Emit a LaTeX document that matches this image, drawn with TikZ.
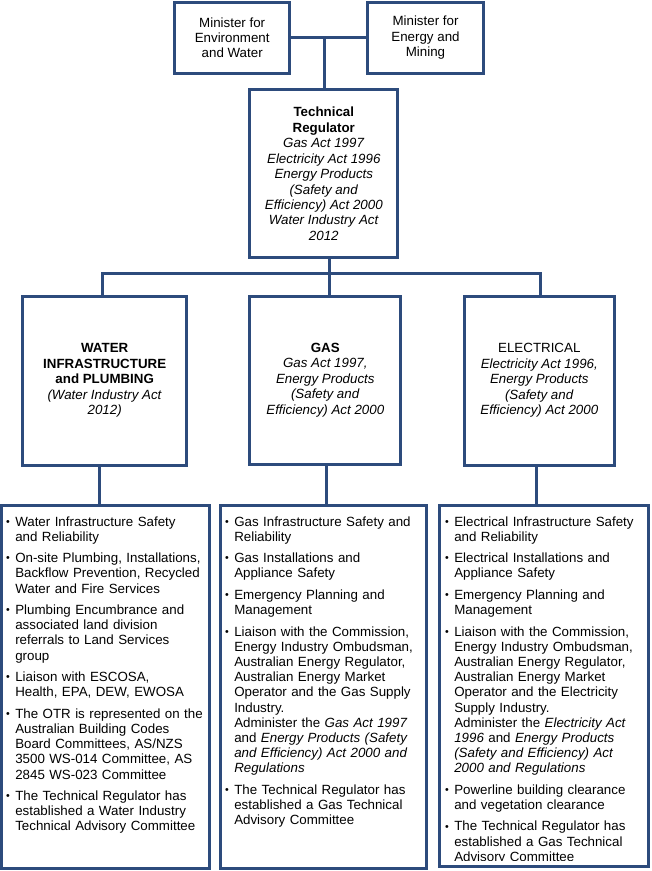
\documentclass[tikz,border=0pt]{standalone}
\usepackage{fontspec}
\setmainfont{Liberation Sans}
\definecolor{navy}{RGB}{45,75,124}
\newcommand{\bul}{\leavevmode\llap{\raisebox{0.12ex}{\scalebox{0.8}{\textbullet}}\hspace{4pt}}}
\newcommand{\ig}{\\[4.7pt]}
\tikzset{
  box/.style={draw=navy, line width=2.25pt, rectangle, inner sep=0pt, align=center,
    font=\fontsize{10pt}{11.6pt}\selectfont},
  link/.style={draw=navy, line width=2.25pt, line join=miter},
  listtext/.style={anchor=base west, inner sep=0pt, text width=150pt, align=left,
    font=\fontsize{10pt}{11.4pt}\selectfont},
}
\begin{document}
\begin{tikzpicture}[x=0.75pt,y=-0.75pt]
\useasboundingbox (0,0) rectangle (652,871);

% top level
\node[box, minimum width=85.9pt, minimum height=53.5pt] (env) at (232.2,37.7)
  {Minister for\\Environment\\and Water};
\node[box, minimum width=86.7pt, minimum height=53.5pt] (energy) at (425.5,37.7)
  {Minister for\\Energy and\\Mining};
\node[box, minimum width=110.8pt, minimum height=125.8pt] (tr) at (323.8,173.8)
  {\textbf{Technical}\\\textbf{Regulator}\\\textit{Gas Act 1997}\\\textit{Electricity Act 1996}\\\textit{Energy Products}\\\textit{(Safety and}\\\textit{Efficiency) Act 2000}\\\textit{Water Industry Act}\\\textit{2012}};

% divisions
\node[box, minimum width=123pt, minimum height=126.75pt] (water) at (104.7,380.5)
  {\textbf{WATER}\\\textbf{INFRASTRUCTURE}\\\textbf{and PLUMBING}\\\textit{(Water Industry Act}\\\textit{2012)}};
\node[box, minimum width=113pt, minimum height=126pt] (gas) at (325.3,380)
  {\textbf{GAS}\\\textit{Gas Act 1997,}\\\textit{Energy Products}\\\textit{(Safety and}\\\textit{Efficiency) Act 2000}};
\node[box, minimum width=112.5pt, minimum height=126.75pt] (elec) at (539.3,380.5)
  {ELECTRICAL\\\textit{Electricity Act 1996,}\\\textit{Energy Products}\\\textit{(Safety and}\\\textit{Efficiency) Act 2000}};

% list boxes
\node[box, minimum width=156.2pt, minimum height=272.6pt] (wlist) at (105.85,686.75) {};
\node[box, minimum width=154.3pt, minimum height=272.6pt] (glist) at (323.85,686.75) {};
\node[box, minimum width=156.75pt, minimum height=270.75pt] (elist) at (543.5,685.5) {};

% connectors
\coordinate (mtop) at (324,37.7);
\coordinate (busL) at (102.7,273.3);
\coordinate (busM) at (329,273.3);
\coordinate (busR) at (540,273.3);
\coordinate (wd) at (99,0);
\coordinate (gd) at (326,0);
\coordinate (ed) at (536.7,0);
\draw[link] (env.east) -- (energy.west);
\draw[link] (mtop) -- (mtop |- tr.north);
\draw[link] (tr.south -| busM) -- (busM);
\draw[link] (busL |- water.north) -- (busL) -- (busR) -- (busR |- elec.north);
\draw[link] (busM) -- (busM |- gas.north);
\draw[link] (water.south -| wd) -- (wlist.north -| wd);
\draw[link] (gas.south -| gd) -- (glist.north -| gd);
\draw[link] (elec.south -| ed) -- (elist.north -| ed);

% list texts
\node[listtext] (wtext) at (15,526) {%
\bul Water Infrastructure Safety\\and Reliability\ig
\bul On-site Plumbing, Installations,\\Backflow Prevention, Recycled\\Water and Fire Services\ig
\bul Plumbing Encumbrance and\\associated land division\\referrals to Land Services\\group\ig
\bul Liaison with ESCOSA,\\Health, EPA, DEW, EWOSA\ig
\bul The OTR is represented on the\\Australian Building Codes\\Board Committees, AS/NZS\\3500 WS-014 Committee, AS\\2845 WS-023 Committee\ig
\bul The Technical Regulator has\\established a Water Industry\\Technical Advisory Committee};

\node[listtext] (gtext) at (234,526) {%
\bul Gas Infrastructure Safety and\\Reliability\ig
\bul Gas Installations and\\Appliance Safety\ig
\bul Emergency Planning and\\Management\ig
\bul Liaison with the Commission,\\Energy Industry Ombudsman,\\Australian Energy Regulator,\\Australian Energy Market\\Operator and the Gas Supply\\Industry.\\Administer the \textit{Gas Act 1997}\\and \textit{Energy Products (Safety}\\\textit{and Efficiency) Act 2000 and}\\\textit{Regulations}\ig
\bul The Technical Regulator has\\established a Gas Technical\\Advisory Committee};

\coordinate (eclip) at (648,860);
\begin{scope}
\clip (elist.north west) rectangle (eclip);
\node[listtext] (etext) at (454,526) {%
\bul Electrical Infrastructure Safety\\and Reliability\ig
\bul Electrical Installations and\\Appliance Safety\ig
\bul Emergency Planning and\\Management\ig
\bul Liaison with the Commission,\\Energy Industry Ombudsman,\\Australian Energy Regulator,\\Australian Energy Market\\Operator and the Electricity\\Supply Industry.\\Administer the \textit{Electricity Act}\\\textit{1996} and \textit{Energy Products}\\\textit{(Safety and Efficiency) Act}\\\textit{2000 and Regulations}\ig
\bul Powerline building clearance\\and vegetation clearance\ig
\bul The Technical Regulator has\\established a Gas Technical\\Advisory Committee};
\end{scope}
\end{tikzpicture}
\end{document}
